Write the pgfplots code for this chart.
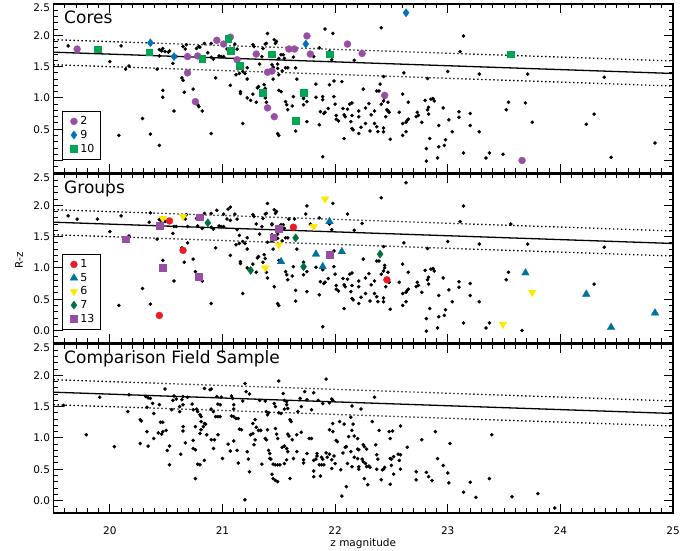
\documentclass[border=0pt]{standalone}
\usepackage{fontspec}
\setmainfont{DejaVu Sans}
\usepackage{pgfplots}
\usepackage{pgfplotstable}
\pgfplotsset{compat=1.18}
\definecolor{cpurple}{RGB}{152,78,163}
\definecolor{cblue}{RGB}{0,114,188}
\definecolor{cgreen}{RGB}{0,166,81}
\definecolor{gred}{RGB}{237,28,36}
\definecolor{gblue}{RGB}{0,112,160}
\definecolor{gyellow}{RGB}{255,232,0}
\definecolor{gdgreen}{RGB}{0,112,62}

\pgfplotstableread{
x y
19.63 1.83
20.00 1.58
20.08 0.40
20.10 1.83
20.17 1.51
20.29 0.67
20.36 0.42
20.47 1.12
20.42 1.46
20.44 1.77
20.46 1.75
20.49 1.74
20.52 1.73
20.56 1.55
20.57 0.79
20.59 1.66
20.64 1.32
20.66 1.09
20.68 1.85
20.67 1.78
20.74 1.14
20.77 1.79
20.79 1.82
20.78 0.89
20.82 0.79
20.84 1.87
20.90 1.87
20.90 1.65
20.92 1.62
20.97 1.67
20.90 0.43
20.94 1.32
20.99 1.66
21.01 1.66
21.04 1.78
21.07 1.20
21.11 1.86
21.13 1.78
21.12 1.37
21.15 1.39
21.16 1.10
21.16 1.07
21.18 0.59
21.18 1.42
21.20 1.39
21.22 1.48
21.22 1.30
21.22 1.00
21.27 1.85
21.28 1.82
21.27 1.06
21.30 0.93
21.31 1.16
21.32 1.18
21.33 1.54
21.35 1.66
21.36 1.79
21.38 1.86
21.39 1.87
21.40 2.03
21.37 1.21
21.38 1.15
21.39 0.93
21.44 1.53
21.47 1.87
21.46 1.93
21.48 1.90
21.45 1.30
21.49 1.54
21.49 1.47
21.49 0.43
21.50 0.40
21.50 1.12
21.52 1.69
21.54 1.69
21.55 1.63
21.53 1.43
21.56 1.48
21.58 1.48
21.56 0.94
21.57 0.89
21.58 0.81
21.62 0.87
21.63 1.02
21.65 0.47
21.66 1.30
21.72 0.99
21.72 0.89
21.75 0.94
21.75 0.62
21.83 1.01
21.86 0.57
21.87 0.78
21.89 0.97
21.90 0.75
21.91 0.77
21.89 0.06
21.94 0.83
21.97 1.61
21.98 2.03
21.99 1.27
21.99 1.02
22.00 0.90
22.01 0.66
22.01 0.72
22.03 0.63
21.86 1.80
22.41 2.12
23.14 1.99
22.17 1.60
23.11 1.74
23.00 1.42
22.61 1.40
23.28 1.38
22.43 1.34
22.82 1.31
22.25 1.14
22.37 1.11
22.39 1.11
22.07 0.83
22.11 0.82
22.13 0.90
22.15 0.92
22.08 0.73
22.09 0.70
22.15 0.72
22.14 0.62
22.15 0.51
22.16 0.49
22.08 0.35
22.21 0.79
22.21 0.70
22.27 0.84
22.23 0.53
22.21 0.43
22.27 0.59
22.30 0.91
22.31 0.47
22.32 0.73
22.35 0.59
22.35 0.79
22.37 0.54
22.38 0.46
22.43 0.46
22.43 0.52
22.41 0.90
22.43 0.95
22.44 1.00
22.47 0.79
22.48 0.77
22.45 0.70
22.47 0.93
22.49 0.34
22.57 0.77
22.60 1.06
22.60 0.59
22.63 0.46
22.60 0.40
22.65 0.93
22.64 0.64
22.63 0.61
22.65 0.66
22.73 0.77
22.72 0.70
22.74 0.72
22.77 0.61
22.80 0.96
22.82 0.81
22.83 0.85
22.83 0.74
22.85 0.98
22.87 0.99
22.88 0.95
22.81 0.19
22.81 -0.01
22.84 0.35
22.91 0.04
22.92 0.22
22.92 0.56
22.96 0.84
22.97 0.24
22.98 0.33
23.01 0.65
23.04 0.46
23.10 0.78
23.10 0.69
23.14 0.12
23.20 0.75
23.20 0.56
23.28 0.46
23.34 0.04
23.37 0.12
23.52 0.81
23.54 0.93
23.71 1.38
24.30 0.74
24.39 1.33
}\basedots

\pgfplotstableread{
x y
19.71 1.78
20.69 1.66
20.78 1.67
20.69 1.40
20.76 0.94
20.95 1.92
21.01 1.86
21.07 1.97
21.13 1.61
21.30 1.70
21.40 1.41
21.44 1.43
21.44 1.69
21.40 0.84
21.46 0.70
21.59 1.78
21.64 1.78
21.75 1.99
21.78 1.70
22.11 1.86
22.24 1.71
22.44 1.04
23.66 0.00
}\coreTwo

\pgfplotstableread{
x y
20.36 1.88
20.57 1.66
21.74 1.86
22.63 2.36
}\coreNine

\pgfplotstableread{
x y
19.89 1.78
20.35 1.73
20.82 1.63
21.05 1.94
21.07 1.76
21.15 1.52
21.36 1.09
21.44 1.70
21.72 1.09
21.65 0.64
21.95 1.70
23.56 1.70
}\coreTen

\pgfplotstableread{
x y
20.53 1.75
20.65 1.28
20.44 0.24
21.63 1.65
22.46 0.81
}\grpOne

\pgfplotstableread{
x y
21.95 1.74
21.83 1.22
21.89 1.02
21.52 1.10
22.06 1.26
23.69 0.92
24.23 0.58
24.45 0.05
24.84 0.28
}\grpFive

\pgfplotstableread{
x y
20.47 1.79
20.65 1.82
21.91 2.10
21.81 1.66
21.50 1.37
21.38 1.00
23.75 0.61
23.49 0.10
}\grpSix

\pgfplotstableread{
x y
20.87 1.72
21.25 0.96
21.65 1.48
21.72 1.02
22.40 1.22
}\grpSeven

\pgfplotstableread{
x y
20.14 1.46
20.44 1.67
20.47 1.01
20.80 1.81
20.79 0.86
21.45 1.49
21.50 1.63
21.95 1.21
}\grpThirteen

\pgfplotstableread{
x y
19.59 1.52
19.79 1.05
19.91 1.65
20.04 0.86
20.16 1.42
20.17 1.69
20.27 1.29
20.28 1.27
20.27 0.91
20.32 1.66
20.34 1.64
20.33 1.10
20.33 1.49
20.34 0.87
20.36 1.63
20.38 1.55
20.39 1.39
20.44 1.53
20.45 1.25
20.47 1.25
20.43 1.08
20.46 1.06
20.47 1.10
20.50 1.12
20.39 0.99
20.49 1.78
20.51 0.80
20.53 0.87
20.53 0.57
20.55 1.45
20.57 1.67
20.59 1.62
20.56 1.60
20.62 1.50
20.62 1.42
20.64 1.61
20.65 1.53
20.65 1.66
20.63 0.74
20.65 1.18
20.65 1.11
20.67 0.92
20.69 1.65
20.73 1.54
20.74 1.45
20.74 0.96
20.74 0.83
20.76 0.81
20.76 0.35
20.76 1.18
20.77 1.46
20.78 1.42
20.80 1.37
20.81 1.34
20.78 0.58
20.80 0.57
20.80 1.07
20.81 1.13
20.83 1.18
20.84 1.23
20.85 1.22
20.81 1.26
20.84 0.64
20.84 1.79
20.86 1.05
20.89 1.77
20.90 1.78
20.90 1.46
20.92 1.42
20.90 0.97
20.93 0.97
20.92 0.83
20.94 1.34
20.96 1.34
20.98 1.34
20.95 1.66
20.96 1.54
20.98 1.53
20.96 1.05
20.99 1.65
21.00 0.67
21.05 0.90
21.07 0.79
21.08 1.67
21.09 1.63
21.08 1.35
21.10 1.34
21.10 1.53
21.10 1.46
21.10 0.95
21.12 1.31
21.14 1.31
21.13 0.80
21.15 1.14
21.17 1.13
21.14 0.60
21.18 1.59
21.20 1.87
21.21 1.74
21.24 1.70
21.20 0.01
21.22 0.78
21.23 0.66
21.24 0.46
21.25 1.05
21.27 1.07
21.27 1.23
21.29 1.29
21.30 1.17
21.28 0.89
21.29 0.97
21.32 1.12
21.34 1.12
21.35 0.58
21.33 1.60
21.38 0.99
21.39 0.97
21.40 1.13
21.38 1.59
21.39 1.42
21.40 1.37
21.41 1.40
21.41 0.80
21.42 0.75
21.42 0.67
21.43 0.66
21.44 0.42
21.45 0.35
21.47 0.32
21.49 0.30
21.45 0.58
21.47 0.57
21.49 0.57
21.51 0.57
21.46 1.55
21.47 1.50
21.47 1.15
21.48 1.06
21.49 0.99
21.50 1.91
21.50 1.40
21.52 1.39
21.54 1.71
21.55 1.46
21.55 1.60
21.57 1.58
21.57 1.53
21.58 1.47
21.53 0.85
21.55 0.87
21.57 0.83
21.58 0.78
21.55 0.59
21.57 0.65
21.58 1.06
21.59 1.03
21.60 1.29
21.61 1.26
21.60 0.35
21.62 0.97
21.63 0.67
21.66 0.78
21.66 1.05
21.67 1.42
21.69 1.63
21.70 1.50
21.70 1.09
21.72 0.65
21.72 0.60
21.73 1.74
21.75 1.61
21.75 0.75
21.77 0.99
21.79 0.99
21.79 1.45
21.81 1.72
21.81 0.47
21.81 0.38
21.81 0.64
21.83 0.66
21.84 0.75
21.84 0.71
21.85 1.60
21.86 0.57
21.88 0.57
21.90 0.57
21.87 0.39
21.88 0.69
21.89 0.66
21.89 1.55
21.92 1.94
21.92 0.76
21.93 0.69
21.95 1.56
21.97 1.62
21.98 1.60
21.95 1.13
21.98 1.10
21.95 0.74
21.97 0.65
21.99 0.71
22.00 0.59
21.97 0.51
21.98 1.23
22.01 0.96
22.02 0.94
22.04 1.26
22.05 0.49
22.06 0.07
22.07 0.76
22.08 1.22
22.09 0.85
22.10 0.86
22.10 0.22
22.11 0.59
22.12 1.02
22.15 1.51
22.23 1.46
22.35 1.65
22.14 1.33
22.16 1.22
22.15 1.12
22.17 1.03
22.14 0.78
22.17 0.69
22.20 0.67
22.15 0.54
22.20 0.99
22.20 0.82
22.21 0.81
22.21 0.54
22.21 0.50
22.24 0.66
22.25 0.89
22.26 0.86
22.26 0.35
22.28 0.82
22.29 0.25
22.25 0.62
22.27 0.59
22.28 0.54
22.30 0.55
22.31 0.53
22.33 1.26
22.36 0.89
22.37 0.73
22.38 0.66
22.37 0.50
22.39 1.12
22.41 0.33
22.42 0.49
22.43 0.50
22.44 0.53
22.48 1.10
22.51 1.11
22.49 0.99
22.49 0.67
22.50 0.66
22.52 0.70
22.49 0.26
22.50 0.56
22.52 0.42
22.56 0.74
22.58 0.73
22.57 0.64
22.58 0.50
22.58 1.19
22.64 0.85
22.72 0.33
22.72 0.46
22.77 0.97
22.81 0.45
22.83 0.38
22.86 0.32
22.89 1.10
22.91 0.67
22.96 0.56
23.00 0.44
23.01 0.28
23.02 0.91
23.14 0.13
23.20 0.29
23.25 0.05
23.37 0.35
23.39 1.05
23.57 0.06
23.80 0.11
23.95 -0.12
}\fielddots

\newcommand{\tickfont}{\fontsize{10.5bp}{12bp}\selectfont}
\newcommand{\legfont}{\fontsize{11bp}{12bp}\selectfont}
\newcommand{\titlefont}{\fontsize{17bp}{20bp}\selectfont}

\pgfplotsset{
  panel/.style={
    width=619.5bp, height=169bp, scale only axis,
    xmin=19.5, xmax=25, ymin=-0.2, ymax=2.5,
    xtick={20,21,22,23,24,25},
    minor xtick={19.6,19.7,...,24.95},
    ytick={0,0.5,1,1.5,2},
    minor ytick={-0.1,0,...,2.45},
    extra y ticks={2.5}, extra y tick labels={2.5},
    extra y tick style={yticklabel style={yshift=-4bp}},
    tick align=inside, xtick pos=both, ytick pos=both,
    major tick length=9bp, minor tick length=4.5bp,
    axis line style={line width=1.3bp},
    every tick/.style={black, line width=0.9bp},
    tick label style={font=\tickfont},
    xticklabel style={yshift=-10bp},
    legend style={at={(0.0137,0.08)}, anchor=south west, draw=black,
      line width=0.9bp, inner xsep=5bp, inner ysep=4bp, font=\legfont,
      row sep=1bp, nodes={inner sep=1.5bp}},
    legend cell align=left,
  },
  dots/.style={only marks, mark=*, mark size=1.6bp, black, forget plot},
  mk/.style={only marks, line width=0.3bp,
    legend image code/.code={\path[draw=none,fill=none] (0bp,-1bp) rectangle (11.5bp,1bp); \draw[##1] plot coordinates {(6.5bp,0bp)};}},
}

\begin{document}
\begin{tikzpicture}
\path[use as bounding box] (-53.5bp,-38bp) rectangle (642.5bp,513bp);

% ---------------- Cores
\begin{axis}[panel, at={(0bp,340bp)}, anchor=south west,
  xticklabels={}, yticklabels={,0.5,1.0,1.5,2.0}]
\addplot[dots] table {\basedots};
\addplot[dots] table {\grpOne};
\addplot[dots] table {\grpFive};
\addplot[dots] table {\grpSix};
\addplot[dots] table {\grpSeven};
\addplot[dots] table {\grpThirteen};
\addplot[black, line width=1.3bp, forget plot] coordinates {(19.5,1.73) (25,1.39)};
\addplot[black, line width=1.3bp, dash pattern=on 1.3bp off 2.7bp, forget plot] coordinates {(19.5,1.93) (25,1.59)};
\addplot[black, line width=1.3bp, dash pattern=on 1.3bp off 2.7bp, forget plot] coordinates {(19.5,1.53) (25,1.19)};
\addplot[mk, mark=*, mark size=3.5bp, color=cpurple, fill=cpurple] table {\coreTwo};
\addlegendentry{2}
\addplot[mk, mark=diamond*, mark size=4.1bp, color=cblue, fill=cblue] table {\coreNine};
\addlegendentry{9}
\addplot[mk, mark=square*, mark size=3.4bp, color=cgreen, fill=cgreen] table {\coreTen};
\addlegendentry{10}
\node[anchor=base west, inner sep=0pt, font=\titlefont] at (rel axis cs:0.017,0.886) {Cores};
\end{axis}

% ---------------- Groups
\begin{axis}[panel, at={(0bp,170bp)}, anchor=south west,
  xticklabels={}, yticklabels={0.0,0.5,1.0,1.5,2.0}]
\addplot[dots] table {\basedots};
\addplot[dots] table {\coreTwo};
\addplot[dots] table {\coreNine};
\addplot[dots] table {\coreTen};
\addplot[black, line width=1.3bp, forget plot] coordinates {(19.5,1.73) (25,1.39)};
\addplot[black, line width=1.3bp, dash pattern=on 1.3bp off 2.7bp, forget plot] coordinates {(19.5,1.93) (25,1.59)};
\addplot[black, line width=1.3bp, dash pattern=on 1.3bp off 2.7bp, forget plot] coordinates {(19.5,1.53) (25,1.19)};
\addplot[mk, mark=*, mark size=3.5bp, color=gred, fill=gred] table {\grpOne};
\addlegendentry{1}
\addplot[mk, mark=triangle*, mark size=4.4bp, color=gblue, fill=gblue] table {\grpFive};
\addlegendentry{5}
\addplot[mk, mark=triangle*, mark size=4.4bp, mark options={rotate=180}, color=gyellow, fill=gyellow] table {\grpSix};
\addlegendentry{6}
\addplot[mk, mark=diamond*, mark size=4.1bp, color=gdgreen, fill=gdgreen] table {\grpSeven};
\addlegendentry{7}
\addplot[mk, mark=square*, mark size=3.4bp, color=cpurple, fill=cpurple] table {\grpThirteen};
\addlegendentry{13}
\node[anchor=base west, inner sep=0pt, font=\titlefont] at (rel axis cs:0.017,0.886) {Groups};
\end{axis}

% ---------------- Field
\begin{axis}[panel, at={(0bp,0bp)}, anchor=south west,
  xticklabels={20,21,22,23,24,25}, yticklabels={0.0,0.5,1.0,1.5,2.0}]
\addplot[dots] table {\fielddots};
\addplot[black, line width=1.3bp, forget plot] coordinates {(19.5,1.73) (25,1.39)};
\addplot[black, line width=1.3bp, dash pattern=on 1.3bp off 2.7bp, forget plot] coordinates {(19.5,1.93) (25,1.59)};
\addplot[black, line width=1.3bp, dash pattern=on 1.3bp off 2.7bp, forget plot] coordinates {(19.5,1.53) (25,1.19)};
\node[anchor=base west, inner sep=0pt, font=\titlefont] at (rel axis cs:0.017,0.886) {Comparison Field Sample};
\end{axis}

\node[rotate=90, font=\tickfont] at (-34.5bp,253bp) {R-z};
\node[anchor=base, font=\tickfont] at (309.75bp,-33bp) {z magnitude};
\end{tikzpicture}
\end{document}
